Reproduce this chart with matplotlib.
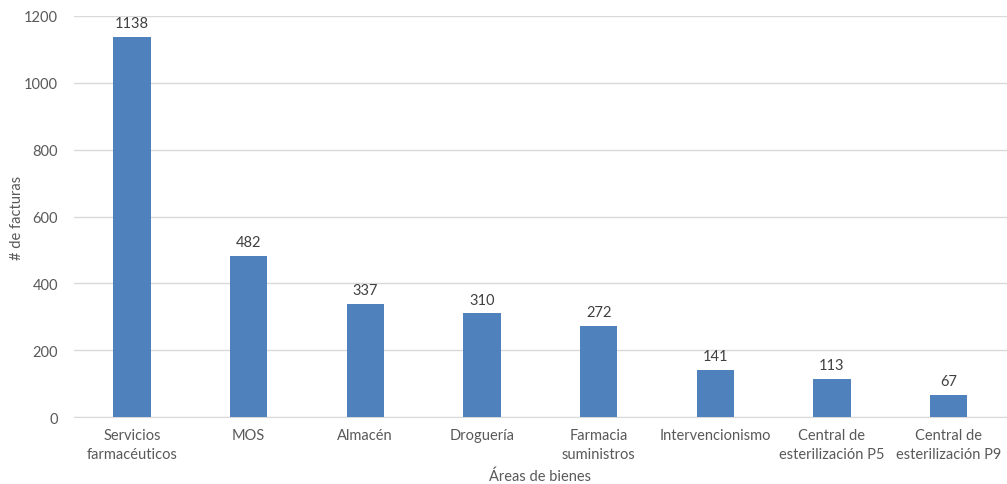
import matplotlib.pyplot as plt
import numpy as np

plt.rcParams['font.family'] = ['Lato', 'DejaVu Sans']

# Facturas por área
areas = ['Servicios\nfarmacéuticos', 'MOS', 'Almacén', 'Droguería',
         'Farmacia\nsuministros', 'Intervencionismo',
         'Central de\nesterilización P5', 'Central de\nesterilización P9']
facturas = [1138, 482, 337, 310, 272, 141, 113, 67]
yticks = [0, 200, 400, 600, 800, 1000, 1200]

gris = '#595959'
azul = '#4F81BD'

fig = plt.figure(figsize=(10.07, 4.85), dpi=100)
ax = fig.add_axes([0.073, 0.138, 0.927, 0.827])

x = np.arange(len(areas))
barras = ax.bar(x, facturas, width=0.32, color=azul, zorder=3)
for xi, v in zip(x, facturas):
    ax.annotate(str(v), (xi, v), xytext=(0, 5), textcoords='offset points',
                ha='center', va='bottom', fontsize=10.5, color='#404040')

ax.set_xlim(-0.5, len(areas) - 0.5)
ax.set_ylim(0, 1200)
ax.set_yticks(yticks)
ax.set_xticks(x)
ax.set_xticklabels(areas, fontsize=10.5, color=gris, linespacing=1.45)
ax.tick_params(axis='y', labelsize=10.5, colors=gris, length=0, pad=11)
ax.tick_params(axis='x', length=0, pad=8)
ax.grid(axis='y', color='#D9D9D9', linewidth=1, zorder=0)
for s in ['top', 'right', 'left']:
    ax.spines[s].set_visible(False)
ax.spines['bottom'].set_color('#D9D9D9')

ax.set_xlabel('Áreas de bienes', fontsize=10.5, color=gris, labelpad=5)
ax.set_ylabel('# de facturas', fontsize=10.5, color=gris, labelpad=0)

plt.savefig('out.png', dpi=100)
